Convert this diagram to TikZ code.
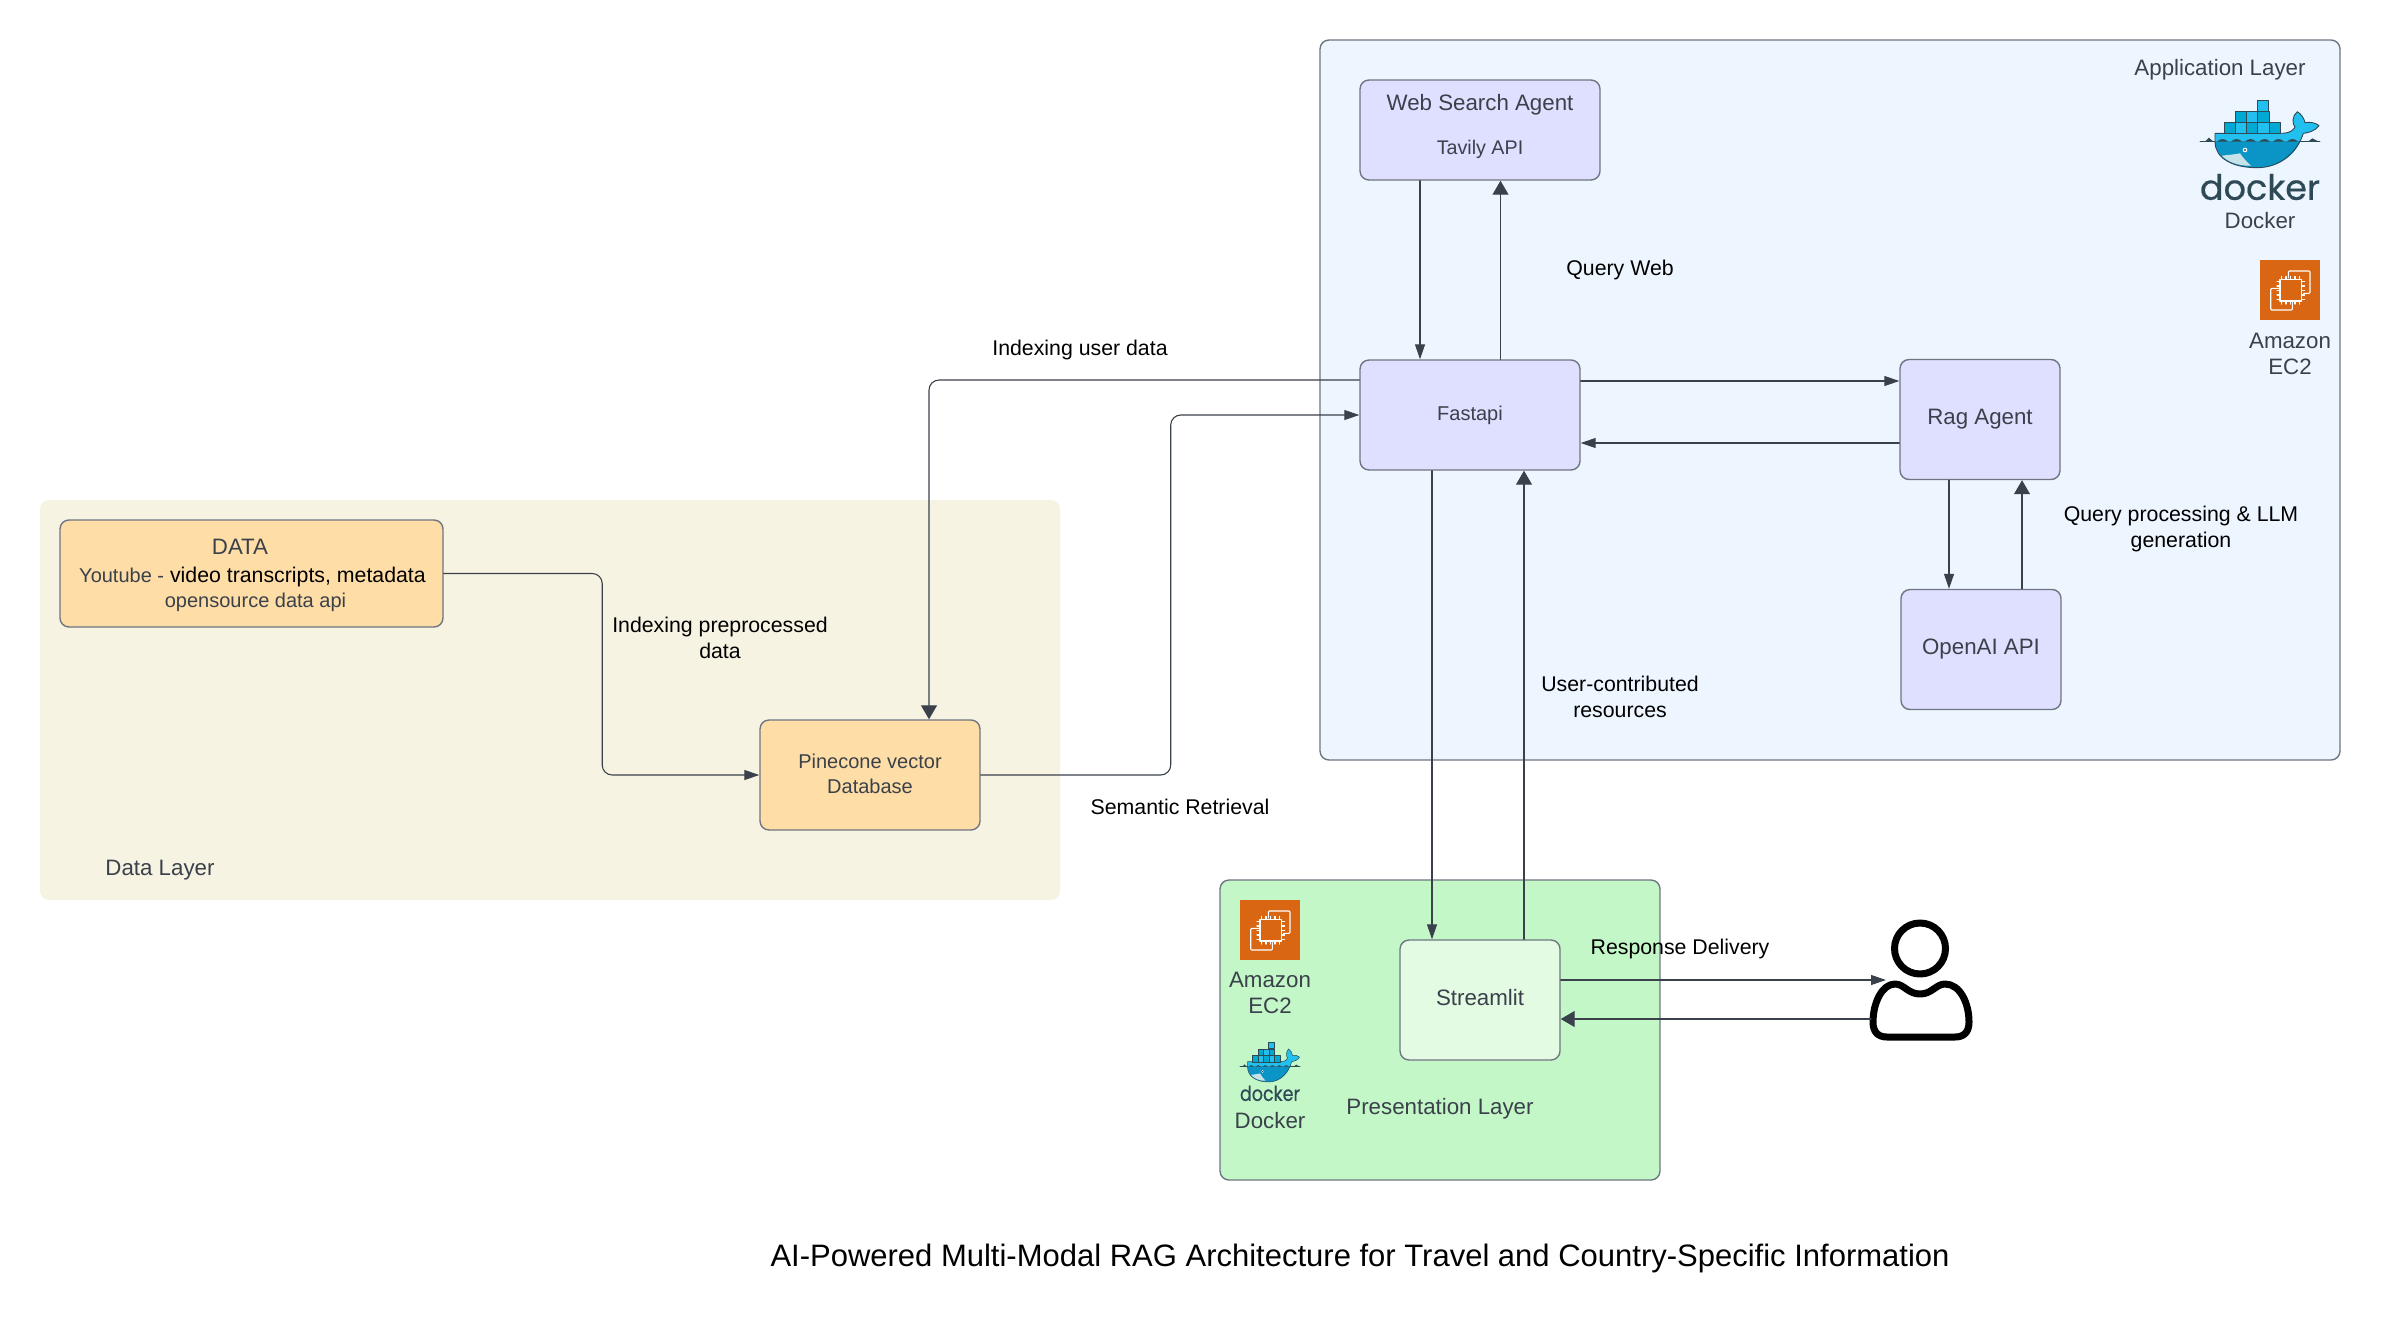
\documentclass[tikz,border=0pt]{standalone}
\usepackage{fontspec}
\setmainfont{Liberation Sans}
\newfontfamily\dockerfont{Poppins}[FakeBold=0.5]
\usetikzlibrary{arrows.meta}
\definecolor{txt}{HTML}{3A414A}
\definecolor{edge}{HTML}{6F7681}
\definecolor{sand}{HTML}{F7F3E3}
\definecolor{peach}{HTML}{FFDDA6}
\definecolor{sky}{HTML}{EDF5FF}
\definecolor{lilac}{HTML}{DFDFFF}
\definecolor{mint}{HTML}{C3F7C8}
\definecolor{pale}{HTML}{E3FAE3}
\definecolor{ecorange}{HTML}{D86613}
\definecolor{dockdark}{HTML}{2E4A56}
\definecolor{docklight}{HTML}{22C0EE}
\definecolor{dockmid}{HTML}{00A9D1}
\definecolor{dockhull}{HTML}{0A95C6}
\definecolor{dockbelly}{HTML}{C7E3E8}
\tikzset{
	layer/.style={rectangle,rounded corners=9pt,minimum width=#1,inner sep=0pt},
	box/.style={rectangle,draw=edge,line width=1.4pt,rounded corners=9pt,inner sep=0pt,text=txt,align=center},
	conn/.style={draw=txt,line width=1.1pt,-{Triangle[length=15pt,width=10pt]}},
	connb/.style={draw=txt,line width=1.1pt,-{Triangle[length=14pt,width=16pt]}},
	tag/.style={text=black,align=center,inner sep=0pt,font=\fontsize{21.3}{26}\selectfont},
	note/.style={text=txt,align=center,inner sep=0pt,font=\fontsize{22.3}{26.5}\selectfont},
	dockline/.style={line width=.9pt},
	crate/.style={draw=dockdark,dockline,fill=#1},
	pics/ectwo/.style={code={
		\fill[ecorange] (0,0) rectangle (60,60);
		\draw[white,line width=1.1pt,rounded corners=1pt] (28.3,18) -- (28.3,11) -- (50,11) -- (50,33.3) -- (43.5,33.3);
		\draw[white,line width=1.1pt,rounded corners=1pt] (18.5,28.3) -- (10.7,28.3) -- (10.7,50) -- (32.3,50) -- (32.3,42.5);
		\draw[white,line width=1.6pt] (20,19.5) rectangle (41.5,41);
		\foreach \t in {21.5,26,30.5,35,39.5}{
			\draw[white,line width=1.1pt] (\t,16.5) -- (\t,19.5) (\t,41) -- (\t,44);
			\draw[white,line width=1.1pt] (17,\t) -- (20,\t) (41.5,\t) -- (44.5,\t);
		}
	}},
	pics/dockerlogo/.style={code={
		% water line
		\draw[dockdark,line width=.8pt] (0,41.7) -- (120,41.7);
		\fill[dockdark] (5,41.7) -- (9,37.7) -- (13.3,41.7) -- cycle;
		\fill[dockdark] (108,41.7) -- (112.3,38.3) -- (119,41.7) -- cycle;
		% whale
		\path[fill=docklight] (15,33.3) -- (80,33.3) .. controls (86,33.3) and (91,33) .. (95,27.5) .. controls (92,23) and (92,16) .. (97.3,11.7) .. controls (101,14) and (104,18) .. (105,22.7) .. controls (110,21.5) and (116,23) .. (119,25.7) .. controls (115,31) and (108,33) .. (103.3,33.3) -- (100,41.7) -- (15,41.7) -- cycle;
		\path[fill=dockhull] (15,41.7) -- (100,41.7) .. controls (94,56) and (78,67.7) .. (57,67.7) .. controls (32,67.7) and (15,58) .. (15,41.7) -- cycle;
		\path[fill=dockbelly] (21.7,55.7) .. controls (28,55) and (34,54.5) .. (40,53.3) .. controls (43,58) and (47,62) .. (51,65.7) .. controls (38,66) and (28,62) .. (21.7,55.7) -- cycle;
		\foreach \s in {17,31,45,59,73,87}{
			\fill[dockdark] (\s,41.7) .. controls ({\s+3},38.2) and ({\s+8},38.2) .. ({\s+11},41.7) -- cycle;
		}
		\draw[dockdark,dockline] (15,33.3) -- (80,33.3) .. controls (86,33.3) and (91,33) .. (95,27.5) .. controls (92,23) and (92,16) .. (97.3,11.7) .. controls (101,14) and (104,18) .. (105,22.7) .. controls (110,21.5) and (116,23) .. (119,25.7) .. controls (115,31) and (108,33) .. (103.3,33.3) .. controls (98,50) and (82,67.7) .. (57,67.7) .. controls (32,67.7) and (15,58) .. (15,41.7) -- cycle;
		\fill[white] (45,50) circle (2.3);
		\fill[dockdark] (45,50) circle (1.2);
		% crates
		\foreach \cx/\cy/\cc in {57/0/docklight,35.7/11.7/dockmid,46.8/11.7/docklight,57.9/11.7/dockmid,24.6/22.8/dockmid,35.7/22.8/docklight,46.8/22.8/dockmid,57.9/22.8/docklight,69/22.8/dockmid}{
			\path[crate=\cc] (\cx,\cy) rectangle ({\cx+11.1},{\cy+11.1});
		}
		\node[transform shape,inner sep=0pt,text=dockdark,font=\dockerfont\fontsize{35}{35}\selectfont] at (60,87) {docker};
	}}
}
\begin{document}
\begin{tikzpicture}[x=1pt,y=-1pt,line join=round,line cap=round]
	\useasboundingbox (0,0) rectangle (2389,1320);
	% layers
	\node[layer=1020pt,minimum height=400pt,fill=sand] (datalayer) at (550,700) {};
	\node[layer=1020pt,minimum height=720pt,draw=edge,line width=1.4pt,fill=sky] (applayer) at (1830,400) {};
	\node[layer=440pt,minimum height=300pt,draw=edge,line width=1.4pt,fill=mint] (preslayer) at (1440,1030) {};
	\node[note] (datalabel) at (160,870) {Data Layer};
	\node[note] (applabel) at (2220,70) {Application Layer};
	\node[note] (preslabel) at (1440,1109) {Presentation Layer};
	% boxes
	\node[box,fill=peach,minimum width=383pt,minimum height=107pt] (data) at (251.5,573.5) {};
	\node[box,fill=peach,minimum width=220pt,minimum height=110pt,font=\fontsize{20}{24}\selectfont] (pine) at (870,775) {\raisebox{4pt}{Pinecone vector}\\\raisebox{3pt}{Database}};
	\node[box,fill=lilac,minimum width=240pt,minimum height=100pt] (web) at (1480,130) {};
	\node[box,fill=lilac,minimum width=220pt,minimum height=110pt,font=\fontsize{20}{24}\selectfont] (fastapi) at (1470,415) {\raisebox{3.5pt}{Fastapi}};
	\node[box,fill=lilac,minimum width=160pt,minimum height=120pt,font=\fontsize{22.3}{26}\selectfont] (rag) at (1980,419.5) {Rag Agent};
	\node[box,fill=lilac,minimum width=160pt,minimum height=120pt,font=\fontsize{22.3}{26}\selectfont] (openai) at (1981,649.5) {OpenAI API};
	\node[box,fill=pale,minimum width=160pt,minimum height=120pt,font=\fontsize{22.3}{26}\selectfont] (streamlit) at (1480,1000) {\raisebox{4.5pt}{Streamlit}};
	\node[note] (datatitle) at (240,547) {DATA};
	\node[inner sep=0pt,text=black,font=\fontsize{21.3}{25}\selectfont] (datasrc) at (252.5,577) {{\fontsize{20}{25}\selectfont\textcolor{txt}{Youtube -}} video transcripts, metadata};
	\node[inner sep=0pt,text=txt,font=\fontsize{20}{25}\selectfont] (dataapi) at (255.5,602) {opensource data api};
	\node[note] (webtitle) at (1480,105) {Web Search Agent};
	\node[inner sep=0pt,text=txt,font=\fontsize{19.7}{23}\selectfont] (webapi) at (1480,149) {Tavily API};
	% user
	\node[minimum width=105pt,minimum height=115pt,inner sep=0pt] (user) at (1922,985) {};
	\draw[black,line width=7pt] (1920,948.5) circle (25.5);
	\draw[black,line width=7pt] (1895,984) .. controls (1904,984) and (1908,994) .. (1920,994) .. controls (1932,994) and (1936,984) .. (1945,984) .. controls (1960,984) and (1969,1003) .. (1969,1022) .. controls (1969,1032) and (1964,1037) .. (1955,1037) -- (1887,1037) .. controls (1878,1037) and (1873,1032) .. (1873,1022) .. controls (1873,1003) and (1882,984) .. (1895,984) -- cycle;
	\coordinate (userin) at (1886,980);
	\coordinate (userout) at (1871,1019);
	% connectors
	\draw[conn,rounded corners=10pt] (data.east) -- ++(158.5,0) |- (pine.west);
	\draw[connb,rounded corners=10pt] ([yshift=35pt]fastapi.west) -| ([xshift=59pt]pine.north);
	\draw[conn,rounded corners=10pt] (pine.east) -- ++(190,0) |- (fastapi.west);
	\draw[conn] ([xshift=-60pt]web.south) -- ([xshift=-50pt]fastapi.north);
	\draw[connb] ([xshift=30.5pt]fastapi.north) -- ([xshift=20.5pt]web.south);
	\draw[conn] ([yshift=34pt]fastapi.east) -- ([yshift=38.5pt]rag.west);
	\draw[conn] ([yshift=-23.5pt]rag.west) -- ([yshift=-28pt]fastapi.east);
	\draw[conn] ([xshift=-31pt]rag.south) -- ([xshift=-32pt]openai.north);
	\draw[connb] ([xshift=41pt]openai.north) -- ([xshift=42pt]rag.south);
	\draw[conn] ([xshift=-38pt]fastapi.south) -- ([xshift=-48pt]streamlit.north);
	\draw[connb] ([xshift=44pt]streamlit.north) -- ([xshift=54pt]fastapi.south);
	\draw[conn] ([yshift=20pt]streamlit.east) -- (userin);
	\draw[connb] (userout) -- ([yshift=-19pt]streamlit.east);
	% edge labels
	\node[tag] (lblindex) at (1080,350) {Indexing user data};
	\node[tag] (lblquery) at (1620,270) {Query Web};
	\node[tag] (lblprep) at (720,637.5) {Indexing preprocessed\\data};
	\node[tag] (lblsem) at (1180,807) {Semantic Retrieval};
	\node[tag] (lblllm) at (2181,529) {Query processing \& LLM\\generation};
	\node[tag] (lbluser) at (1620,697) {User-contributed\\resources};
	\node[tag] (lblresp) at (1680,949) {Response Delivery};
	% icons
	\pic (dockapp) at (2200,100) {dockerlogo};
	\node[note] (dockapplabel) at (2260,221) {Docker};
	\pic (ecapp) at (2260,260) {ectwo};
	\node[note] (ecapplabel) at (2290,354) {Amazon\\EC2};
	\pic (ecpres) at (1240,900) {ectwo};
	\node[note] (ecpreslabel) at (1270,993) {Amazon\\EC2};
	\pic[xscale=.5,yscale=.59,dockline/.style={line width=.5pt}] (dockpres) at (1240,1042) {dockerlogo};
	\node[note] (dockpreslabel) at (1270,1121) {Docker};
	% title
	\node[inner sep=0pt,text=black,font=\fontsize{31}{38}\selectfont] (title) at (1360,1258) {AI-Powered Multi-Modal RAG Architecture for Travel and Country-Specific Information};
\end{tikzpicture}
\end{document}
